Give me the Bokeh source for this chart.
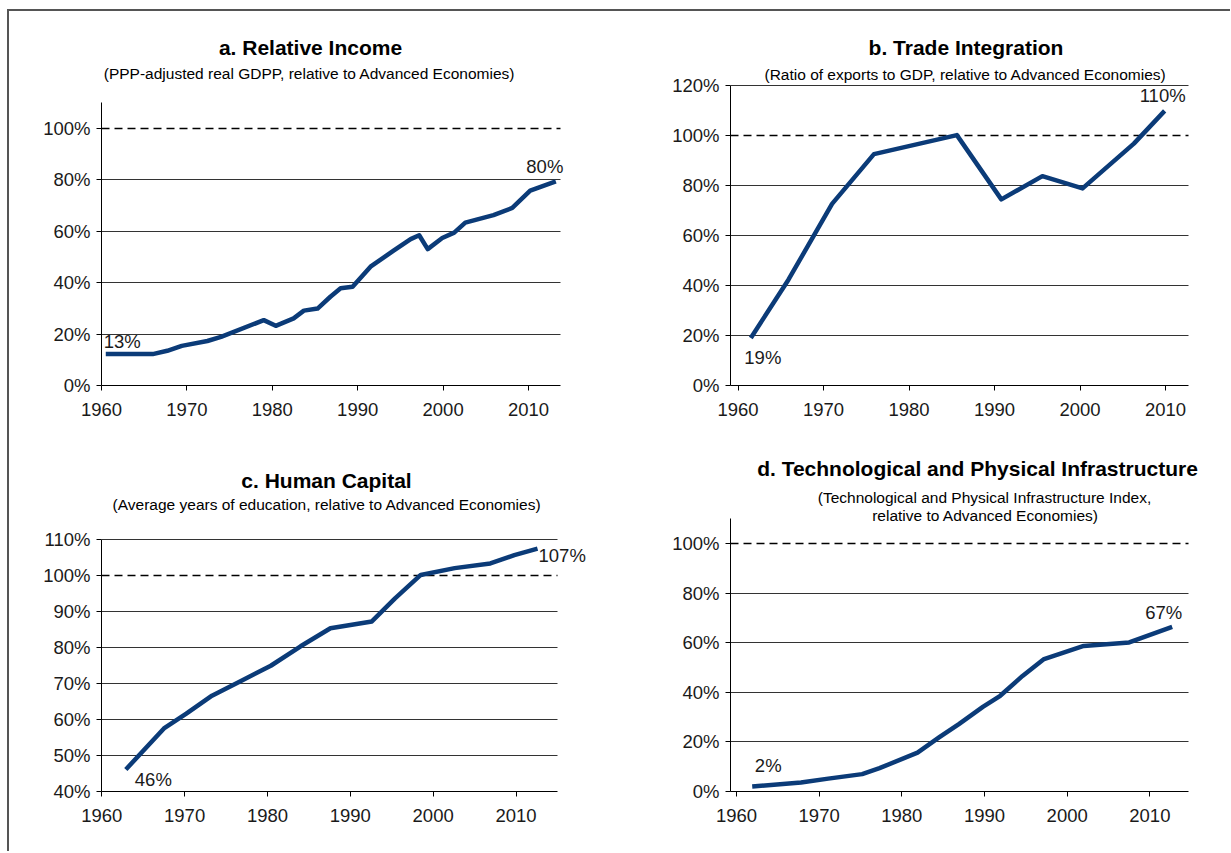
from bokeh.plotting import figure
from bokeh.models import Range1d, FixedTicker, PrintfTickFormatter, Label, Grid
from bokeh.layouts import row, column
from bokeh.embed import file_html
from bokeh.resources import INLINE

# ---------------- data ----------------
years_a = [1960.5, 1966, 1967.7, 1969.4, 1972.4, 1974, 1979, 1980.4, 1982.5, 1983.7, 1985.3,
           1986.8, 1988.0, 1989.4, 1991.5, 1994.2, 1996.2, 1997.2, 1998.2, 1999.9, 2001.3,
           2002.6, 2005.9, 2008.1, 2010.2, 2013.2]
income = [12.2, 12.2, 13.5, 15.4, 17.3, 18.9, 25.4, 23.2, 26.1, 29.1, 29.9,
          34.5, 37.8, 38.4, 46.2, 52.4, 56.9, 58.4, 53.0, 57.3, 59.4,
          63.3, 66.2, 69.0, 75.7, 79.3]

years_b = [1961.5, 1965.9, 1971.0, 1975.9, 1985.6, 1990.8, 1995.6, 2000.3, 2006.3, 2009.9]
trade = [19.0, 42.3, 72.6, 92.5, 100.1, 74.4, 83.7, 78.8, 96.7, 109.8]

years_c = [1962.9, 1967.5, 1970.2, 1973.3, 1976.8, 1980.4, 1984.0, 1987.6, 1992.6, 1995.4,
           1998.5, 2002.6, 2006.9, 2009.8, 2012.6]
human = [46.1, 57.5, 61.6, 66.6, 70.7, 74.9, 80.3, 85.3, 87.2, 93.6,
         100.1, 102.0, 103.3, 105.6, 107.4]

years_d = [1961.9, 1967.8, 1971.1, 1975.2, 1977.3, 1981.9, 1984.5, 1986.9, 1989.8, 1991.9,
           1994.6, 1997.2, 2002.0, 2007.5, 2012.7]
infra = [2.0, 3.6, 5.2, 7.0, 9.4, 15.7, 21.8, 27.2, 34.1, 38.6,
         46.6, 53.4, 58.7, 60.1, 66.4]

x_ticks = [1960, 1970, 1980, 1990, 2000, 2010]
y_ticks_a = [0, 20, 40, 60, 80, 100]
y_ticks_b = [0, 20, 40, 60, 80, 100, 120]
y_ticks_c = [40, 50, 60, 70, 80, 90, 100, 110]
y_ticks_d = [0, 20, 40, 60, 80, 100]
reference_level = 100

titles = ["a. Relative Income", "b. Trade Integration", "c. Human Capital",
          "d. Technological and Physical Infrastructure"]
subtitles = [["(PPP-adjusted real GDPP, relative to Advanced Economies)"],
             ["(Ratio of exports to GDP, relative to Advanced Economies)"],
             ["(Average years of education, relative to Advanced Economies)"],
             ["(Technological and Physical Infrastructure Index,",
              "relative to Advanced Economies)"]]
start_labels = ["13%", "19%", "46%", "2%"]
end_labels = ["80%", "110%", "107%", "67%"]

# ---------------- style / geometry (page pixels) ----------------
FONT = "Liberation Sans"
NAVY = "#0b3b78"
TICK_FS = "18.5px"

GEOM = [
    dict(fig=(9, 11, 611, 419), left=101, bottom=385, x1960=101.0, ppx=8.54,
         xend_px=560, ybase=0, ppy=2.573, ytop=110,
         title_px=(310, 47), sub_px=[(309, 73)],
         start_off=(-2, 12.5, "left"), end_off=(-11, 15, "center")),
    dict(fig=(620, 11, 610, 419), left=730, bottom=386, x1960=737.5, ppx=8.55,
         xend_px=1188, ybase=0, ppy=2.508, ytop=120,
         title_px=(965.5, 47), sub_px=[(965, 74)],
         start_off=(12, -19.5, "center"), end_off=(-2, 15, "center")),
    dict(fig=(9, 430, 611, 421), left=101, bottom=796, x1960=101.3, ppx=8.284,
         xend_px=557, ybase=40, ppy=3.653, ytop=110,
         title_px=(326, 481), sub_px=[(326.5, 505.5)],
         start_off=(9, -9.5, "left"), end_off=(1, -7, "left")),
    dict(fig=(620, 430, 610, 421), left=730, bottom=791, x1960=736.0, ppx=8.267,
         xend_px=1188, ybase=0, ppy=2.48, ytop=110,
         title_px=(977, 468), sub_px=[(984, 497), (985, 515)],
         start_off=(16, 21.5, "center"), end_off=(-8.5, 14, "center")),
]


def make_panel(g, yticks, xs, ys, title, subs, start_lab, end_lab):
    fx, fy, fw, fh = g["fig"]

    def to_data(px, py):
        return (1960 + (px - g["x1960"]) / g["ppx"],
                g["ybase"] + (g["bottom"] - py) / g["ppy"])

    x_start, y_top_canvas = to_data(g["left"], fy)
    x_right, _ = to_data(fx + fw, fy)
    x_axis_end, _ = to_data(g["xend_px"], fy)

    p = figure(width=fw, height=fh, output_backend="svg", toolbar_location=None,
               x_range=Range1d(x_start, x_right),
               y_range=Range1d(g["ybase"], y_top_canvas), title=None,
               min_border_left=g["left"] - fx, min_border_right=0,
               min_border_top=0, min_border_bottom=fy + fh - g["bottom"])
    p.outline_line_color = None
    p.background_fill_color = "white"
    p.border_fill_color = "white"
    p.xgrid.visible = False
    p.ygrid.visible = False

    solid = [t for t in yticks if t not in (reference_level, g["ybase"])]
    p.add_layout(Grid(dimension=1, ticker=FixedTicker(ticks=solid),
                      grid_line_color="#333333", grid_line_width=1,
                      cross_bounds=(x_start, x_axis_end)))
    p.add_layout(Grid(dimension=1, ticker=FixedTicker(ticks=[reference_level]),
                      grid_line_color="black", grid_line_width=1.5,
                      grid_line_dash="8 5", cross_bounds=(x_start, x_axis_end)))

    for ax in (p.xaxis[0], p.yaxis[0]):
        ax.axis_line_color = "black"
        ax.axis_line_width = 1
        ax.major_tick_line_color = "black"
        ax.major_tick_in = 0
        ax.major_tick_out = 5
        ax.minor_tick_line_color = None
        ax.major_label_text_font = FONT
        ax.major_label_text_font_size = TICK_FS
        ax.major_label_text_color = "#1a1a1a"
    p.xaxis.ticker = FixedTicker(ticks=x_ticks)
    p.xaxis.bounds = (x_start, x_axis_end)
    p.xaxis.major_label_standoff = 12
    p.yaxis.ticker = FixedTicker(ticks=yticks)
    p.yaxis.bounds = (g["ybase"], g["ytop"])
    p.yaxis.formatter = PrintfTickFormatter(format="%d%%")
    p.yaxis.major_label_standoff = 6

    p.line(xs, ys, line_color=NAVY, line_width=4.5, line_join="round")

    tx, ty = to_data(*g["title_px"])
    p.add_layout(Label(x=tx, y=ty, text=title, text_font=FONT,
                       text_font_style="bold", text_font_size="21px",
                       text_align="center", text_baseline="middle",
                       text_color="black"))
    for s, pos in zip(subs, g["sub_px"]):
        sx, sy = to_data(*pos)
        p.add_layout(Label(x=sx, y=sy, text=s, text_font=FONT,
                           text_font_size="15.5px", text_align="center",
                           text_baseline="middle", text_color="black"))

    so, eo = g["start_off"], g["end_off"]
    p.add_layout(Label(x=xs[0], y=ys[0], x_offset=so[0], y_offset=so[1],
                       text=start_lab, text_font=FONT, text_font_size=TICK_FS,
                       text_align=so[2], text_baseline="alphabetic",
                       text_color="#1a1a1a"))
    p.add_layout(Label(x=xs[-1], y=ys[-1], x_offset=eo[0], y_offset=eo[1],
                       text=end_lab, text_font=FONT, text_font_size=TICK_FS,
                       text_align=eo[2], text_baseline="alphabetic",
                       text_color="#1a1a1a"))
    return p


pa = make_panel(GEOM[0], y_ticks_a, years_a, income, titles[0], subtitles[0],
                start_labels[0], end_labels[0])
pb = make_panel(GEOM[1], y_ticks_b, years_b, trade, titles[1], subtitles[1],
                start_labels[1], end_labels[1])
pc = make_panel(GEOM[2], y_ticks_c, years_c, human, titles[2], subtitles[2],
                start_labels[2], end_labels[2])
pd_ = make_panel(GEOM[3], y_ticks_d, years_d, infra, titles[3], subtitles[3],
                 start_labels[3], end_labels[3])

layout = column(row(pa, pb), row(pc, pd_),
                styles={"margin-left": "7px", "margin-top": "9px",
                        "border-top": "2px solid #555555",
                        "border-left": "2px solid #555555"})

open("out.html", "w").write(file_html(layout, INLINE))
